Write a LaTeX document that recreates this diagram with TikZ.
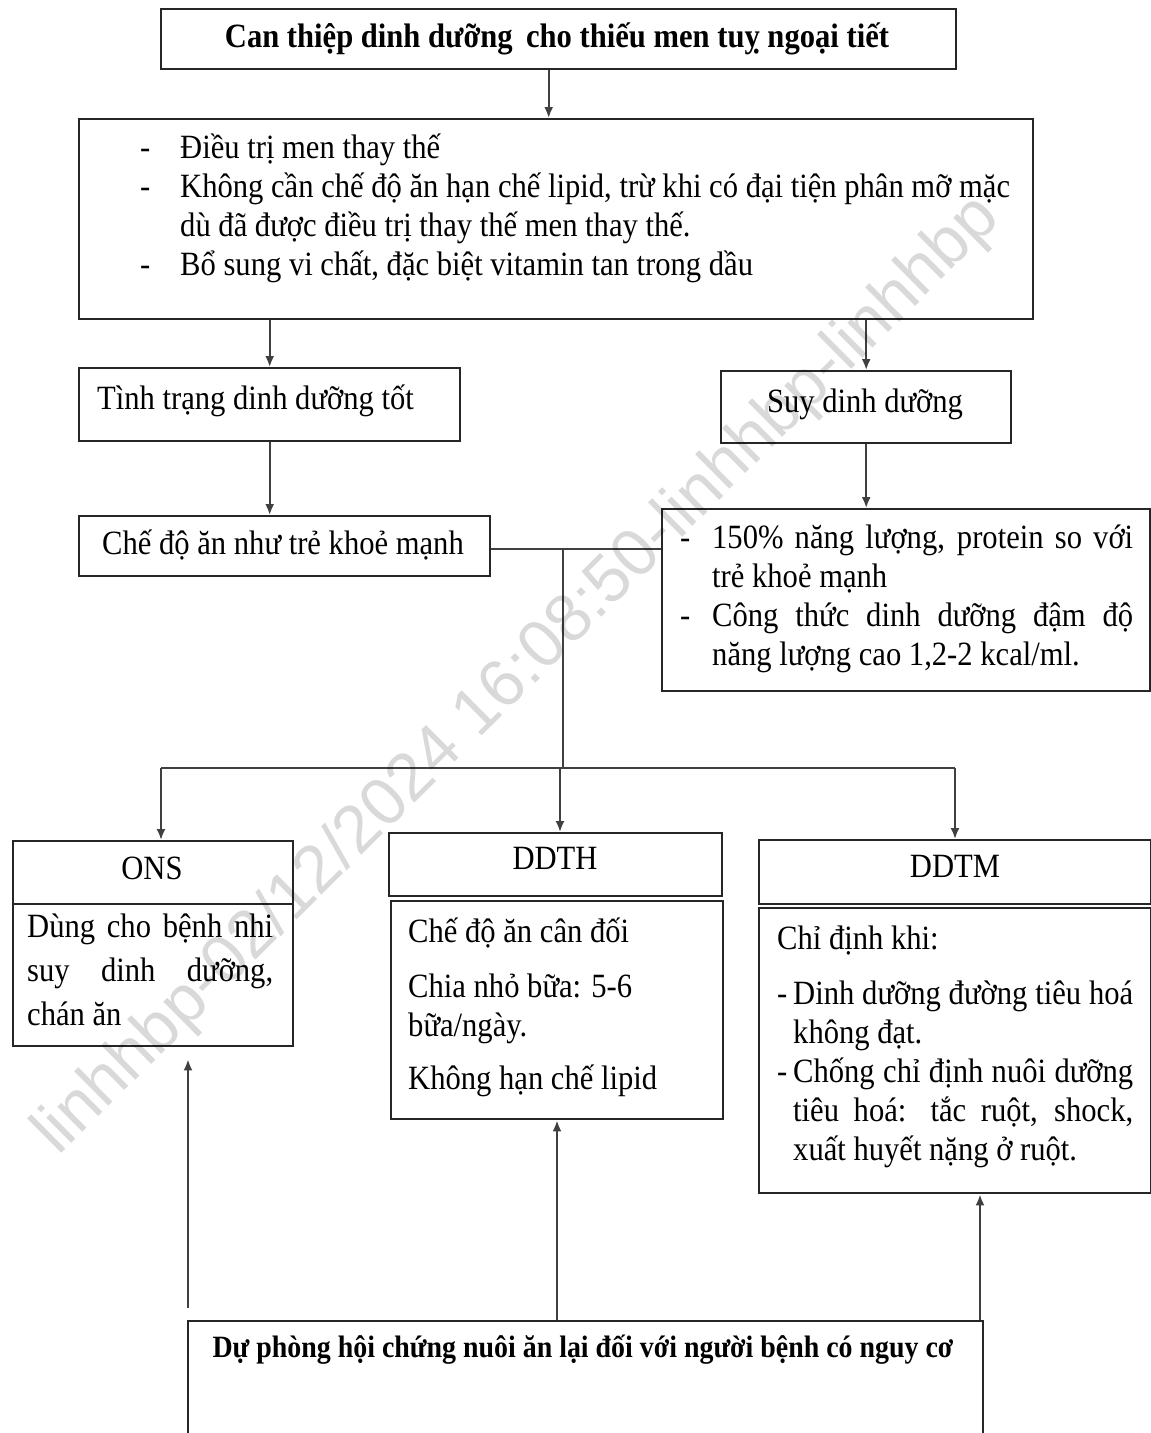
\documentclass[tikz,border=0pt]{standalone}
\usepackage{fontspec}
\setmainfont{Liberation Serif}[FakeStretch=0.9]
\newfontfamily\wmfont{Liberation Sans}
\usetikzlibrary{arrows.meta}

% body type: 34pt on a 39pt grid, no extra lineskip for stacked accents
\newcommand\bodyfont{\fontsize{34}{39}\selectfont\lineskiplimit=-100pt\relax}
% fixed strut so a multi-line node's top sits 32pt above its first baseline
\newcommand\firstln{\rule{0pt}{32pt}}

\tikzset{
  box/.style={draw=black!85, line width=2.4pt, fill=white, inner sep=0pt,
              anchor=north west},
  txt/.style={inner sep=0pt, font=\bodyfont, align=left},
  conn/.style={draw=black!75, line width=2pt},
  arr/.style={conn, -{Latex[length=11pt,width=9pt]}},
}

\begin{document}
\begin{tikzpicture}[x=1pt, y=-1pt]
\useasboundingbox (0,0) rectangle (1151,1433);
\clip (0,0) rectangle (1151,1433);
\fill[white] (0,0) rectangle (1151,1433);

% ---------- boxes ----------
\node[box, minimum width=795pt, minimum height=60pt]  (title) at (160,8) {};
\node[box, minimum width=954pt, minimum height=200pt] (plan)  at (78,118) {};
\node[box, minimum width=381pt, minimum height=73pt]  (good)  at (78,367) {};
\node[box, minimum width=290pt, minimum height=72pt]  (malnut) at (720,370) {};
\node[box, minimum width=411pt, minimum height=60pt]  (diet)  at (78,515) {};
\node[box, minimum width=488pt, minimum height=182pt] (rich)  at (661,508) {};

\node[box, minimum width=280pt, minimum height=63pt]  (onsH)  at (12,840) {};
\node[box, minimum width=280pt, minimum height=142pt] (onsB)  at (12,903) {};
\node[box, minimum width=333pt, minimum height=63pt]  (ddthH) at (388,832) {};
\node[box, minimum width=332pt, minimum height=218pt] (ddthB) at (390,900) {};
\node[box, minimum width=392pt, minimum height=64pt]  (ddtmH) at (758,839) {};
\node[box, minimum width=392pt, minimum height=285pt] (ddtmB) at (758,907) {};

\node[box, minimum width=795pt, minimum height=140pt] (refeed) at (187,1320) {};

% ---------- texts ----------
\node[txt, anchor=base, font=\bodyfont\bfseries] (titleT) at (557,47)
  {Can thiệp dinh dưỡng\, cho thiếu men tuỵ ngoại tiết};

\node[txt, anchor=north west] (planT) at (140,126)
  {\firstln\makebox[40pt][l]{-}Điều trị men thay thế\\
   \makebox[40pt][l]{-}Không cần chế độ ăn hạn chế lipid, trừ khi có đại tiện phân mỡ mặc\\
   \hspace*{40pt}dù đã được điều trị thay thế men thay thế.\\
   \makebox[40pt][l]{-}Bổ sung vi chất, đặc biệt vitamin tan trong dầu};

\node[txt, anchor=base west] (goodT) at (97,409) {Tình trạng dinh dưỡng tốt};
\node[txt, anchor=base] (malnutT) at (865,412) {Suy dinh dưỡng};
\node[txt, anchor=base] (dietT) at (283,554) {Chế độ ăn như trẻ khoẻ mạnh};

\node[txt, anchor=north west] (richT) at (680,516)
  {\firstln\makebox[32pt][l]{-}\makebox[421pt][s]{150\% năng lượng, protein so với}\\
   \hspace*{32pt}trẻ khoẻ mạnh\\
   \makebox[32pt][l]{-}\makebox[421pt][s]{Công thức dinh dưỡng đậm độ}\\
   \hspace*{32pt}năng lượng cao 1,2-2 kcal/ml.};

\node[txt, anchor=base] (onsHT)  at (152,879) {ONS};
\node[txt, anchor=base] (ddthHT) at (555,869) {DDTH};
\node[txt, anchor=base] (ddtmHT) at (955,877) {DDTM};

\node[txt, anchor=north west] (onsBT) at (27,905)
  {\firstln\makebox[246pt][s]{Dùng cho bệnh nhi}\\[5pt]
   \makebox[246pt][s]{suy dinh dưỡng,}\\[5pt]
   chán ăn};

\node[txt, anchor=north west] (ddthBT) at (408,910)
  {\firstln Chế độ ăn cân đối\\[16pt]
   Chia nhỏ bữa: 5-6\\
   bữa/ngày.\\[14pt]
   Không hạn chế lipid};

\node[txt, anchor=north west] (ddtmBT) at (777,917)
  {\firstln Chỉ định khi:\\[16pt]
   \makebox[16pt][l]{-}\makebox[340pt][s]{Dinh dưỡng đường tiêu hoá}\\
   \hspace*{16pt}không đạt.\\
   \makebox[16pt][l]{-}\makebox[340pt][s]{Chống chỉ định nuôi dưỡng}\\
   \hspace*{16pt}\makebox[340pt][s]{tiêu hoá: tắc ruột, shock,}\\
   \hspace*{16pt}xuất huyết nặng ở ruột.};

\node[txt, anchor=base, font=\fontsize{31}{36}\selectfont\bfseries] (refeedT) at (583,1357)
  {Dự phòng hội chứng nuôi ăn lại đối với người bệnh có nguy cơ};

% ---------- connectors ----------
\draw[arr] ([xshift=-10pt]title.south) -- ([xshift=-10pt]title.south |- plan.north);
\draw[arr] (plan.south -| good.north) -- (good.north);
\draw[arr] (plan.south -| malnut.north) -- (malnut.north);
\draw[arr] (good.south) -- (good.south |- diet.north);
\draw[arr] (malnut.south) -- (malnut.south |- rich.north);

\coordinate (hub)  at (563,549);
\coordinate (fork) at (563,768);
\coordinate (forkL) at (161,768);
\coordinate (forkM) at (560,768);
\coordinate (forkR) at (955,768);
\draw[conn] (diet.east |- hub) -- (rich.west |- hub);
\draw[conn] (hub) -- (fork);
\draw[conn] (forkL) -- (forkR);
\draw[arr] (forkL) -- (forkL |- onsH.north);
\draw[arr] (forkM) -- (forkM |- ddthH.north);
\draw[arr] (forkR) -- (forkR |- ddtmH.north);

\coordinate (upL) at (188,1308);
\coordinate (upM) at (557,1320);
\coordinate (upR) at (980,1320);
\draw[arr, shorten >=12pt] (upL) -- (upL |- onsB.south);
\draw[arr] (upM |- refeed.north) -- (upM |- ddthB.south);
\draw[arr] (upR |- refeed.north) -- (upR |- ddtmB.south);

% ---------- stamp ----------
\node[inner sep=0pt, rotate=44.8, font=\wmfont\fontsize{67}{67}\selectfont,
      text=black, text opacity=0.15] (stamp) at (518,676)
  {linhhbp-02/12/2024 16:08:50-linhhbp-linhhbp};
\end{tikzpicture}
\end{document}
